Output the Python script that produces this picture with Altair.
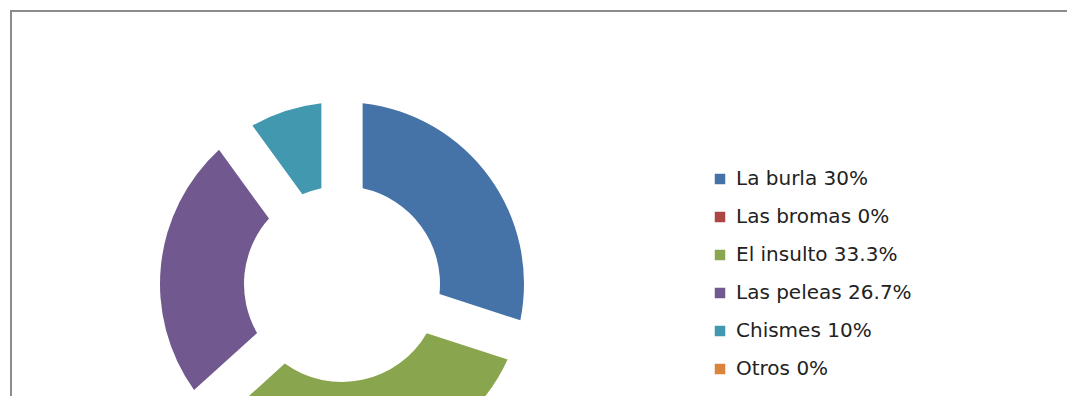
import altair as alt
import pandas as pd

categories = ["La burla", "Las bromas", "El insulto", "Las peleas", "Chismes", "Otros"]
values = [30, 0, 33.3, 26.7, 10, 0]
legend_labels = ["La burla  30%", "Las bromas 0%", "El insulto 33.3%", "Las peleas 26.7%", "Chismes 10%", "Otros 0%"]
colors = ["#4572A7", "#AA4643", "#89A54E", "#71588F", "#4198AF", "#DB843D"]

W, H = 1057, 386
df = pd.DataFrame({"cat": categories, "value": values, "label": legend_labels, "idx": list(range(len(categories)))})

arcs = alt.Chart(df).transform_filter("datum.value > 0").mark_arc(
    innerRadius=98, outerRadius=182, padAngle=0.2, clip=True
).encode(
    theta=alt.Theta("value:Q", stack=True),
    order=alt.Order("idx:Q"),
    color=alt.Color(
        "label:N",
        sort=legend_labels,
        scale=alt.Scale(domain=legend_labels, range=colors),
        legend=alt.Legend(
            title=None, orient="none", legendX=700, legendY=159,
            symbolType="square", symbolSize=110, symbolStrokeWidth=0,
            labelFont="DejaVu Sans", labelFontSize=20, labelColor="#222222",
            rowPadding=18, labelOffset=6, labelLimit=400,
        ),
    ),
    x=alt.value(332),
    y=alt.value(274),
)

frame = pd.DataFrame({"k": [0]})
top_line = alt.Chart(frame).mark_rule(color="#8c8c8c", strokeWidth=2).encode(
    x=alt.value(0), x2=alt.value(W), y=alt.value(1)
)
left_line = alt.Chart(frame).mark_rule(color="#8c8c8c", strokeWidth=2).encode(
    x=alt.value(1), y=alt.value(0), y2=alt.value(H)
)

chart = alt.layer(arcs, top_line, left_line).properties(
    width=W, height=H,
    autosize=alt.AutoSizeParams(type="none"),
    padding={"left": 2, "top": 2, "right": 0, "bottom": 0},
).configure_view(stroke=None).configure(background="white")

chart.save("out.html", embed_options={"renderer": "svg", "actions": False})
